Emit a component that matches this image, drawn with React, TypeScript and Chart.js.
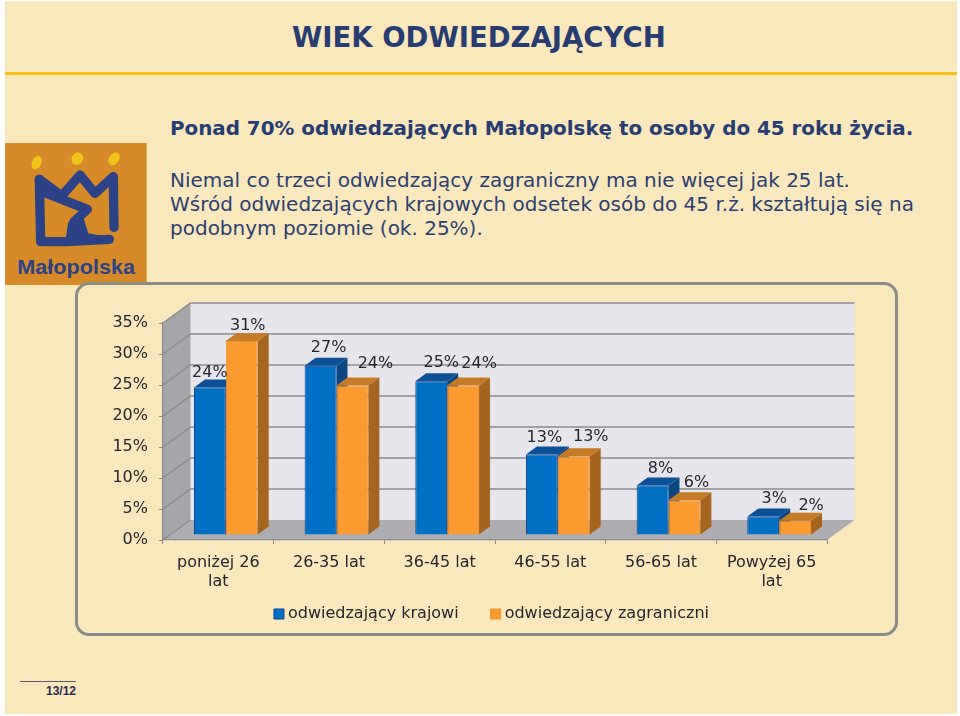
import React, { useEffect, useRef } from "react";
import { Chart, registerables } from "chart.js";

Chart.register(...registerables);

const categories = [["poniżej 26", "lat"], "26-35 lat", "36-45 lat", "46-55 lat", "56-65 lat", ["Powyżej 65", "lat"]];
const krajowi = [23.8, 27.3, 24.8, 13.0, 8.0, 3.0];
const zagraniczni = [31.3, 24.1, 24.1, 12.7, 5.6, 2.3];
const seriesNames = ["odwiedzający krajowi", "odwiedzający zagraniczni"];

const FONT = '"DejaVu Sans", Verdana, sans-serif';
const INK = "#26262c";
const GRID = "#8c8c8e";

// Label nudges away from the top of each bar (style of the original layout).
const labelDx = [
  [0, 8, 10, 2.5, 8, 11],
  [6, 23, 16, 17, 12, 16],
];
const labelDy = [
  [15, 18, 18, 17, 17, 18],
  [15, 22, 22, 19, 17, 15],
];

const DEPTH = { x: 27.5, y: 20 };
const BAR_SHIFT = { x: 7.5, y: 5 };
const BAR_DEPTH = { x: 11, y: 8 };
const LEGEND_SHIFT = { x: 40, y: -22 };
const faces = [
  { top: "#0c5097", side: "#0a4682" },
  { top: "#c67c26", side: "#a6651f" },
];

function poly(ctx: CanvasRenderingContext2D, pts: number[][], fill: string) {
  ctx.beginPath();
  pts.forEach((p, i) => (i ? ctx.lineTo(p[0], p[1]) : ctx.moveTo(p[0], p[1])));
  ctx.closePath();
  ctx.fillStyle = fill;
  ctx.fill();
}

const walls = {
  id: "walls",
  afterLayout(chart: any) {
    chart.legend.left += LEGEND_SHIFT.x;
    chart.legend.right += LEGEND_SHIFT.x;
    chart.legend.top += LEGEND_SHIFT.y;
    chart.legend.bottom += LEGEND_SHIFT.y;
  },
  beforeDraw(chart: any) {
    const { ctx, chartArea: a, scales } = chart;
    const y = scales.y;
    const d = DEPTH;
    ctx.save();
    poly(ctx, [[a.left + d.x, a.top - d.y], [a.right + d.x, a.top - d.y], [a.right + d.x, a.bottom - d.y], [a.left + d.x, a.bottom - d.y]], "#e6e6ec");
    poly(ctx, [[a.left, a.top], [a.left + d.x, a.top - d.y], [a.left + d.x, a.bottom - d.y], [a.left, a.bottom]], "#a5a5aa");
    poly(ctx, [[a.left, a.bottom], [a.right, a.bottom], [a.right + d.x, a.bottom - d.y], [a.left + d.x, a.bottom - d.y]], "#adadb2");
    ctx.strokeStyle = GRID;
    ctx.lineWidth = 1.3;
    y.ticks.forEach((t: any) => {
      const py = y.getPixelForValue(t.value);
      ctx.beginPath();
      ctx.moveTo(a.left, py);
      ctx.lineTo(a.left + d.x, py - d.y);
      if (t.value > 0) ctx.lineTo(a.right + d.x, py - d.y);
      ctx.stroke();
    });
    ctx.restore();
  },
};

const bars3d = {
  id: "bars3d",
  beforeDatasetsDraw(chart: any) {
    const { ctx } = chart;
    const n = chart.data.labels.length;
    ctx.save();
    ctx.translate(BAR_SHIFT.x, -BAR_SHIFT.y);
    for (let i = 0; i < n; i++) {
      chart.data.datasets.forEach((_: any, s: number) => {
        const el = chart.getDatasetMeta(s).data[i];
        const { x, y, base, width } = el.getProps(["x", "y", "base", "width"], true);
        const l = x - width / 2;
        const r = x + width / 2;
        const b = BAR_DEPTH;
        poly(ctx, [[r, y], [r + b.x, y - b.y], [r + b.x, base - b.y], [r, base]], faces[s].side);
        poly(ctx, [[l, y], [r, y], [r + b.x, y - b.y], [l + b.x, y - b.y]], faces[s].top);
        el.draw(ctx);
      });
    }
    ctx.restore();
    ctx.save();
    ctx.font = `16px ${FONT}`;
    ctx.fillStyle = INK;
    ctx.textAlign = "center";
    ctx.textBaseline = "middle";
    chart.data.datasets.forEach((ds: any, s: number) => {
      chart.getDatasetMeta(s).data.forEach((el: any, i: number) => {
        const { x, y } = el.getProps(["x", "y"], true);
        ctx.fillText(`${Math.round(ds.data[i])}%`, x + BAR_SHIFT.x + labelDx[s][i], y - BAR_SHIFT.y - labelDy[s][i]);
      });
    });
    ctx.restore();
    return false;
  },
};

const abs = (left: number, top: number, extra: React.CSSProperties = {}): React.CSSProperties => ({
  position: "absolute",
  left,
  top,
  whiteSpace: "nowrap",
  ...extra,
});

function Logo() {
  return (
    <svg style={{ position: "absolute", left: 0, top: 130 }} width={160} height={170} viewBox="0 0 480 510">
      <rect x={15} y={39} width={425} height={426} fill="#d78a28" />
      <g fill="#efc41b">
        <ellipse cx={110} cy={98} rx={14} ry={21} transform="rotate(25 110 98)" />
        <ellipse cx={232} cy={86} rx={17} ry={19} transform="rotate(30 232 86)" />
        <ellipse cx={342} cy={87} rx={15} ry={21} transform="rotate(35 342 87)" />
      </g>
      <g fill="none" stroke="#2c4287" strokeWidth={28} strokeLinejoin="round" strokeLinecap="round">
        <path d="M118 148 L122 335 L200 335 L328 328" />
        <path d="M118 148 L185 198 L240 135 L285 190 L340 140 L342 292" />
        <path d="M140 190 L262 238 L222 275 L220 320" />
      </g>
      <polygon points="195,340 205,275 250,262 265,310 330,322 330,340" fill="#2c4287" />
      <text x={52} y={433} fontFamily='"Liberation Sans", sans-serif' fontWeight={700} fontSize={62} fill="#2c4287" textLength={353} lengthAdjust="spacingAndGlyphs">
        Małopolska
      </text>
    </svg>
  );
}

export default function App() {
  const ref = useRef<HTMLCanvasElement>(null);

  useEffect(() => {
    document.body.style.margin = "0";
    document.body.style.background = "#ffffff";
    const chart = new Chart(ref.current as HTMLCanvasElement, {
      type: "bar",
      data: {
        labels: categories as any,
        datasets: [
          { label: seriesNames[0], data: krajowi, backgroundColor: "#0070c4", borderColor: "#0d3f92", borderWidth: 1, pointStyle: "rect" },
          { label: seriesNames[1], data: zagraniczni, backgroundColor: "#fb9a2f", borderColor: "#f0952c", borderWidth: 1, pointStyle: "rect" },
        ] as any,
      },
      plugins: [walls, bars3d],
      options: {
        animation: false,
        responsive: false,
        devicePixelRatio: 1,
        layout: { padding: { top: 33, right: 70, left: 0, bottom: 0 } },
        datasets: { bar: { barPercentage: 1, categoryPercentage: 0.576 } },
        plugins: {
          tooltip: { enabled: false },
          title: { display: false },
          legend: {
            display: true,
            position: "bottom",
            labels: {
              usePointStyle: true,
              boxWidth: 2,
              boxHeight: 10,
              padding: 36,
              color: INK,
              font: { family: FONT, size: 16 },
            },
          },
        },
        scales: {
          x: {
            afterFit(s: any) { s.height = 52; },
            grid: { drawOnChartArea: false, drawTicks: true, tickLength: 4, color: GRID, offset: true },
            border: { display: true, color: GRID, width: 1.3 },
            ticks: { color: INK, font: { family: FONT, size: 16 }, maxRotation: 0, autoSkip: false, padding: 9 },
          },
          y: {
            min: 0,
            max: 35,
            afterFit(s: any) { s.width = 83; },
            grid: { drawOnChartArea: false, drawTicks: true, tickLength: 4, color: GRID },
            border: { display: true, color: GRID, width: 1.3 },
            ticks: { stepSize: 5, color: INK, font: { family: FONT, size: 16 }, padding: 11, callback: (v: any) => `${v}%` },
          },
        },
      } as any,
    });
    return () => chart.destroy();
  }, []);

  const ink = "#2d3f70";
  return (
    <div style={{ position: "relative", width: 960, height: 716, overflow: "hidden", background: "#fff" }}>
      <div style={{ position: "absolute", left: 5, top: 1, width: 952, height: 713, background: "#f8e8bc" }} />
      <div style={{ position: "absolute", left: 5, top: 72, width: 952, height: 2.5, background: "#fdbd17" }} />
      <div style={abs(292, 21, { font: `bold 27.5px ${FONT}`, color: "#273c73" })}>WIEK ODWIEDZAJĄCYCH</div>
      <div style={abs(170, 117, { font: `bold 19.87px ${FONT}`, color: "#273c73" })}>Ponad 70% odwiedzających Małopolskę to osoby do 45 roku życia.</div>
      <div style={abs(170, 168, { font: `20px ${FONT}`, color: ink })}>Niemal co trzeci odwiedzający zagraniczny ma nie więcej jak 25 lat.</div>
      <div style={abs(170, 192, { font: `20px ${FONT}`, color: ink })}>Wśród odwiedzających krajowych odsetek osób do 45 r.ż. kształtują się na</div>
      <div style={abs(170, 216, { font: `20px ${FONT}`, color: ink })}>podobnym poziomie (ok. 25%).</div>
      <Logo />
      <div style={{ position: "absolute", left: 75, top: 282, width: 823, height: 354, boxSizing: "border-box", border: "3px solid #8b8b85", borderRadius: 14 }} />
      <canvas ref={ref} width={817} height={364} style={{ position: "absolute", left: 80, top: 290, width: 817, height: 364 }} />
      <div style={{ position: "absolute", left: 20, top: 681, width: 56, height: 1, background: "#5a5a60" }} />
      <div style={abs(42, 684, { font: 'bold 12px "Liberation Sans", sans-serif', color: "#2b2b55", width: 34, textAlign: "right" })}>13/12</div>
    </div>
  );
}
